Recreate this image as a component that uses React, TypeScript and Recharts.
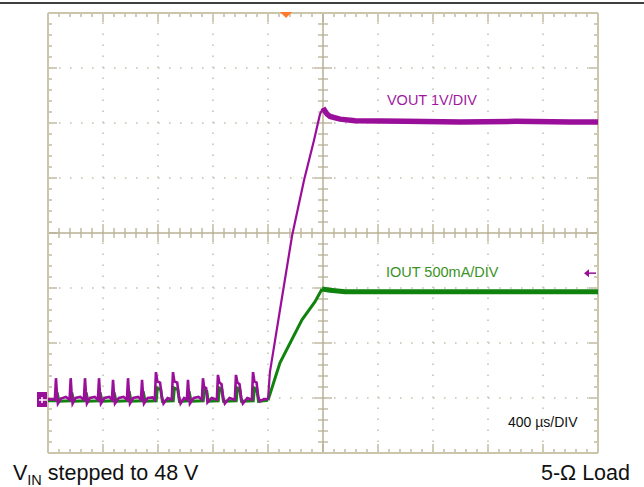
import { LineChart, Line, XAxis, YAxis, ReferenceLine, ReferenceDot } from 'recharts';

// scope settings: 400 µs/div, VOUT 1 V/div, IOUT 500 mA/div
const timeDomain = [0, 4000];
const voltDomain = [-1, 7];
const ampDomain = [-0.5, 3.5];

const majorTimes = [0, 400, 800, 1200, 1600, 2000, 2400, 2800, 3200, 3600, 4000];
const majorVolts = [-1, 0, 1, 2, 3, 4, 5, 6, 7];

// VOUT trace (µs, V)
const voutTime = [
  0, 50, 58, 64, 72, 95, 130, 157, 165, 171, 179, 200, 235, 261, 269, 275, 283, 305, 340, 363, 371, 377, 385,
  410, 445, 465, 473, 479, 487, 515, 550, 574, 582, 588, 596, 620, 655, 676, 684, 690, 698, 725, 760, 777, 785,
  795, 815, 828, 840, 870, 900, 909, 919, 940, 952, 964, 990, 1010, 1018, 1024, 1032, 1060, 1095, 1119, 1127,
  1135, 1150, 1160, 1190, 1228, 1236, 1246, 1262, 1274, 1286, 1320, 1359, 1367, 1377, 1393, 1405, 1417, 1450,
  1483, 1491, 1501, 1517, 1529, 1541, 1570, 1600,
  1614, 1687, 1775, 1862, 1935, 1978, 2000,
  2030, 2051, 2124, 2233, 2600, 3000, 3400, 3800, 4000,
];
const voutValue = [
  -0.02, -0.03, 0.36, 0.12, -0.1, -0.01, 0.02, -0.03, 0.36, 0.12, -0.1, 0.0, 0.02, -0.03, 0.36, 0.12, -0.1, 0.0,
  0.02, -0.03, 0.36, 0.12, -0.1, 0.0, 0.02, -0.03, 0.33, 0.1, -0.1, 0.0, 0.02, -0.03, 0.36, 0.12, -0.1, 0.0, 0.02,
  -0.03, 0.33, 0.1, -0.1, 0.0, 0.01, -0.03, 0.47, 0.3, 0.28, 0.02, -0.1, 0.0, -0.03, 0.47, 0.3, 0.28, 0.02, -0.1,
  0.0, -0.03, 0.33, 0.12, -0.1, 0.0, 0.02, -0.03, 0.36, 0.2, 0.18, -0.08, 0.0, -0.03, 0.42, 0.28, 0.25, 0.0,
  -0.1, 0.0, -0.03, 0.42, 0.28, 0.25, 0.0, -0.1, 0.0, -0.03, 0.47, 0.3, 0.28, 0.02, -0.06, -0.02, -0.02,
  0.47, 1.6, 2.95, 3.96, 4.69, 5.16, 5.27,
  5.16, 5.12, 5.07, 5.04, 5.03, 5.02, 5.03, 5.02, 5.02,
];

// IOUT trace (µs, A)
const ioutTime = [
  0, 60, 66, 80, 167, 173, 187, 271, 277, 291, 373, 379, 393, 475, 481, 495, 584, 590, 604, 686, 692, 706,
  787, 795, 820, 832, 911, 919, 944, 956, 1020, 1026, 1040, 1129, 1137, 1155, 1165, 1238, 1246, 1264, 1276,
  1369, 1377, 1395, 1407, 1493, 1501, 1519, 1531, 1600,
  1687, 1847, 1942, 1993,
  2051, 2160, 2600, 3000, 3400, 3800, 4000,
];
const ioutValue = [
  -0.025, -0.025, 0.05, -0.03, -0.025, 0.05, -0.03, -0.025, 0.05, -0.03, -0.025, 0.05, -0.03, -0.025, 0.05,
  -0.03, -0.025, 0.06, -0.03, -0.025, 0.06, -0.03, -0.025, 0.09, 0.075, -0.03, -0.025, 0.09, 0.075, -0.03,
  -0.025, 0.06, -0.03, -0.025, 0.075, 0.06, -0.03, -0.025, 0.09, 0.075, -0.03, -0.025, 0.09, 0.075, -0.03,
  -0.025, 0.09, 0.075, -0.03, -0.02,
  0.32, 0.71, 0.875, 0.99,
  0.98, 0.965, 0.965, 0.965, 0.965, 0.965, 0.965,
];

const stepAt = 1600;
const voutSettle = 2000;
const ioutSettle = 1993;

const PURPLE = '#9a0f9a';
const GREEN = '#10830f';
const BORDER = '#cbc5ab';
const TICK = '#b9b195';
const DOTS = '#c4c3b0';

const pxT = 4000 / 550;
const pxV = 8 / 440;

const minorTimes = Array.from({ length: 49 }, (_, i) => (i + 1) * 80);
const minorVolts = Array.from({ length: 39 }, (_, i) => Math.round((-1 + (i + 1) * 0.2) * 10) / 10);
const isMajorT = (t: number) => t % 400 === 0;
const isMajorV = (v: number) => Math.abs(v - Math.round(v)) < 1e-6;

const pts = (ts: number[], vs: number[], from: number, to: number) =>
  ts.map((t, i) => ({ t, v: vs[i] })).filter((p) => p.t >= from && p.t <= to);

const voutPre = pts(voutTime, voutValue, 0, stepAt);
const voutRise = pts(voutTime, voutValue, stepAt, voutSettle);
const voutPost = pts(voutTime, voutValue, voutSettle, 4000);
const ioutPre = pts(ioutTime, ioutValue, 0, stepAt);
const ioutRise = pts(ioutTime, ioutValue, stepAt, ioutSettle);
const ioutPost = pts(ioutTime, ioutValue, ioutSettle, 4000);

const font = '"Liberation Sans", Arial, sans-serif';

function seg(key: string, a: { x: number; y: number }, b: { x: number; y: number }, color = TICK) {
  return (
    <ReferenceLine
      key={key}
      yAxisId="v"
      segment={[a, b]}
      stroke={color}
      strokeWidth={1.3}
      ifOverflow="visible"
    />
  );
}

function graticuleTicks() {
  const out = [];
  for (const t of minorTimes) {
    const len = isMajorT(t) ? 9 : 4;
    out.push(seg(`tt${t}`, { x: t, y: 7 }, { x: t, y: 7 - len * pxV }));
    out.push(seg(`bt${t}`, { x: t, y: -1 }, { x: t, y: -1 + len * pxV }));
    if (t !== 2000) {
      const l = isMajorT(t) ? 9 : 5;
      out.push(seg(`ct${t}`, { x: t, y: 3 - l * pxV }, { x: t, y: 3 + l * pxV }));
    }
  }
  for (const v of minorVolts) {
    const len = isMajorV(v) ? 9 : 4;
    out.push(seg(`lv${v}`, { x: 0, y: v }, { x: len * pxT, y: v }));
    out.push(seg(`rv${v}`, { x: 4000, y: v }, { x: 4000 - len * pxT, y: v }));
    if (v !== 3) {
      const l = isMajorV(v) ? 9 : 5;
      out.push(seg(`cv${v}`, { x: 2000 - l * pxT, y: v }, { x: 2000 + l * pxT, y: v }));
    }
  }
  return out;
}

const label = (text: string, color: string, size: number) => (p: any) => (
  <text x={p.cx} y={p.cy} fill={color} fontSize={size} fontFamily={font}>
    {text}
  </text>
);

export default function App() {
  return (
    <div style={{ position: 'absolute', left: 0, top: 0, width: 644, height: 487, background: '#fff' }}>
      <LineChart width={644} height={487} margin={{ top: 13, right: 46, bottom: 34, left: 48 }}>
        <XAxis dataKey="t" type="number" domain={timeDomain} hide allowDataOverflow />
        <YAxis yAxisId="v" type="number" domain={voltDomain} hide allowDataOverflow />
        <YAxis yAxisId="a" type="number" domain={ampDomain} hide allowDataOverflow />

        {majorTimes
          .filter((t) => t !== 0 && t !== 2000 && t !== 4000)
          .map((t) => (
            <ReferenceLine key={`gx${t}`} yAxisId="v" x={t} stroke={DOTS} strokeWidth={1.6} strokeDasharray="1.6 9.4" />
          ))}
        {majorVolts
          .filter((v) => v !== -1 && v !== 3 && v !== 7)
          .map((v) => (
            <ReferenceLine key={`gy${v}`} yAxisId="v" y={v} stroke={DOTS} strokeWidth={1.6} strokeDasharray="1.6 9.4" />
          ))}
        <ReferenceLine yAxisId="v" x={2000} stroke={TICK} strokeWidth={1.5} />
        <ReferenceLine yAxisId="v" y={3} stroke={TICK} strokeWidth={1.5} />
        {graticuleTicks()}
        <ReferenceLine yAxisId="v" x={0} stroke={BORDER} strokeWidth={2} ifOverflow="visible" />
        <ReferenceLine yAxisId="v" x={4000} stroke={BORDER} strokeWidth={2} ifOverflow="visible" />
        <ReferenceLine yAxisId="v" y={-1} stroke={BORDER} strokeWidth={2} ifOverflow="visible" />
        <ReferenceLine yAxisId="v" y={7} stroke={BORDER} strokeWidth={2} ifOverflow="visible" />

        <Line data={ioutPre} yAxisId="a" dataKey="v" type="linear" stroke={GREEN} strokeWidth={3} dot={false} isAnimationActive={false} />
        <Line data={ioutRise} yAxisId="a" dataKey="v" type="linear" stroke={GREEN} strokeWidth={3} dot={false} isAnimationActive={false} />
        <Line data={ioutPost} yAxisId="a" dataKey="v" type="linear" stroke={GREEN} strokeWidth={5} dot={false} isAnimationActive={false} />
        <Line data={voutPre} yAxisId="v" dataKey="v" type="linear" stroke={PURPLE} strokeWidth={2.6} dot={false} isAnimationActive={false} />
        <Line data={voutRise} yAxisId="v" dataKey="v" type="linear" stroke={PURPLE} strokeWidth={2.2} dot={false} isAnimationActive={false} />
        <Line data={voutPost} yAxisId="v" dataKey="v" type="linear" stroke={PURPLE} strokeWidth={5.5} dot={false} isAnimationActive={false} />

        {/* trigger position */}
        <ReferenceDot
          yAxisId="v"
          x={1731}
          y={7}
          r={0}
          ifOverflow="visible"
          shape={(p: any) => (
            <polygon points={`${p.cx - 6},${p.cy - 1} ${p.cx + 6},${p.cy - 1} ${p.cx},${p.cy + 5}`} fill="#ff7a2a" />
          )}
        />
        {/* channel ground marker */}
        <ReferenceDot
          yAxisId="v"
          x={0}
          y={0}
          r={0}
          ifOverflow="visible"
          shape={(p: any) => (
            <g>
              <rect x={p.cx - 11} y={p.cy - 6} width={10} height={15} fill={PURPLE} />
              <line x1={p.cx - 9} y1={p.cy + 2} x2={p.cx - 1} y2={p.cy + 2} stroke="#fff" strokeWidth={1.5} />
              <line x1={p.cx - 6} y1={p.cy - 1} x2={p.cx - 6} y2={p.cy + 5} stroke="#fff" strokeWidth={1.5} />
            </g>
          )}
        />
        {/* trigger level arrow */}
        <ReferenceDot
          yAxisId="v"
          x={4000}
          y={2.27}
          r={0}
          ifOverflow="visible"
          shape={(p: any) => (
            <g>
              <line x1={p.cx - 12} y1={p.cy} x2={p.cx - 2} y2={p.cy} stroke={PURPLE} strokeWidth={1.5} />
              <polygon points={`${p.cx - 14},${p.cy} ${p.cx - 9},${p.cy - 4} ${p.cx - 9},${p.cy + 4}`} fill={PURPLE} />
            </g>
          )}
        />

        <ReferenceDot yAxisId="v" x={2465} y={5.33} r={0} ifOverflow="visible" shape={label('VOUT 1V/DIV', '#a0189f', 14.5)} />
        <ReferenceDot yAxisId="v" x={2458} y={2.2} r={0} ifOverflow="visible" shape={label('IOUT 500mA/DIV', '#3a9226', 14.5)} />
        <ReferenceDot yAxisId="v" x={3345} y={-0.527} r={0} ifOverflow="visible" shape={label('400 µs/DIV', '#111', 14)} />
      </LineChart>

      <svg width={644} height={487} style={{ position: 'absolute', left: 0, top: 0, pointerEvents: 'none' }}>
        <line x1={0} y1={3} x2={644} y2={3} stroke="#000" strokeWidth={1.6} />
        <text x={13} y={480} fontSize={21.5} fontFamily={font} fill="#111">
          V<tspan fontSize={14.5} dy={5}>IN</tspan>
          <tspan dy={-5}> stepped to 48 V</tspan>
        </text>
        <text x={630} y={480} fontSize={21.5} fontFamily={font} fill="#111" textAnchor="end">
          5-Ω Load
        </text>
      </svg>
    </div>
  );
}
